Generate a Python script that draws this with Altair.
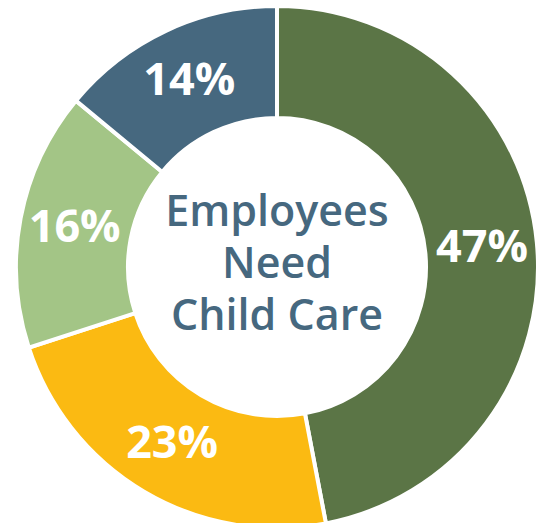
import altair as alt
import pandas as pd

categories = ["A", "B", "C", "D"]
values = [47, 23, 16, 14]
labels = ["47%", "23%", "16%", "14%"]
colors = ["#5b7546", "#fbba12", "#a3c586", "#46687f"]
center_lines = ["Employees", "Need", "Child Care"]

df = pd.DataFrame({"cat": categories, "value": values, "label": labels, "order": list(range(len(values)))})

CX, CY = 269, 259

base = alt.Chart(df).encode(
    theta=alt.Theta("value:Q", stack=True),
    order=alt.Order("order:Q"),
    x=alt.value(CX),
    y=alt.value(CY),
)

arcs = base.mark_arc(outerRadius=261, innerRadius=149, stroke="white", strokeWidth=4).encode(
    color=alt.Color("cat:N", scale=alt.Scale(domain=categories, range=colors), legend=None)
)

text = base.mark_text(radius=206, font="Open Sans", fontWeight="bold", fontSize=45,
                      color="white", align="center", baseline="middle").encode(
    text="label:N"
)

center = alt.Chart(pd.DataFrame({"t": [center_lines]})).mark_text(
    font="Open Sans", fontWeight=600, fontSize=43, color="#46687f",
    align="center", baseline="middle", lineHeight=52
).encode(text="t", x=alt.value(CX), y=alt.value(CY - 54))

chart = alt.layer(arcs, text, center).properties(
    width=529, height=515, padding=0, autosize=alt.AutoSizeParams(type="none")
).configure_view(stroke=None)

chart.save("out.html", embed_options={"renderer": "svg", "actions": False})
